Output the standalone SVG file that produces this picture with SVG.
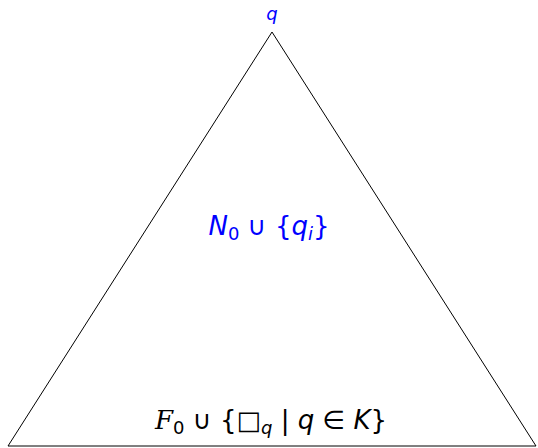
<svg xmlns="http://www.w3.org/2000/svg" width="538" height="448" viewBox="0 0 538 448">
<style>
.t{font-family:"DejaVu Sans","Liberation Sans",sans-serif;}
.i{font-style:italic;}
.blue{fill:#0000ff;}
</style>
<rect width="538" height="448" fill="#fff"/>
<g id="connectors">
<path d="M272,32 L8,446 L536,446 Z" fill="none" stroke="#000" stroke-width="1"/>
</g>
<g id="apex">
<text class="t i blue" x="272" y="20" font-size="18" text-anchor="middle">q</text>
</g>
<g id="inner">
<text class="t blue" x="269" y="235" font-size="26" text-anchor="middle"><tspan class="i">N</tspan><tspan font-size="18" dy="5">0</tspan><tspan dy="-5"> ∪ {</tspan><tspan class="i">q</tspan><tspan class="i" font-size="18" dy="5">i</tspan><tspan dy="-5">}</tspan></text>
</g>
<g id="base">
<text class="t" x="271" y="429" font-size="26" text-anchor="middle"><tspan font-family="'DejaVu Serif',serif" font-style="italic">F</tspan><tspan font-size="18" dy="5">0</tspan><tspan dy="-5"> ∪ {□</tspan><tspan class="i" font-size="18" dy="5">q</tspan><tspan dy="-5"> | </tspan><tspan class="i">q</tspan><tspan> ∈ </tspan><tspan class="i">K</tspan><tspan>}</tspan></text>
</g>
</svg>
